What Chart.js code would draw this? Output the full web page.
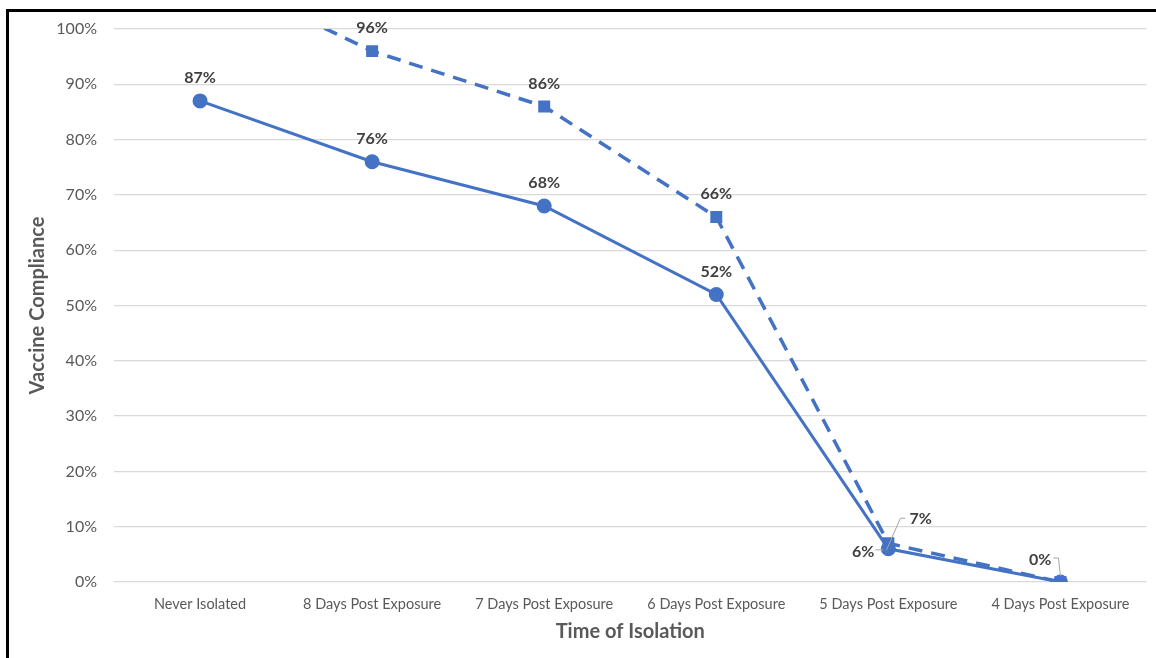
<!DOCTYPE html>
<html>
<head>
<meta charset="utf-8">
<script src="https://cdn.jsdelivr.net/npm/chart.js@4.4.1/dist/chart.umd.min.js"></script>
<style>
  html, body { margin: 0; padding: 0; background: #fff; }
  #wrap { position: relative; width: 1156px; height: 658px; overflow: hidden; }
  #frame { position: absolute; left: 6px; top: 9px; width: 1200px; height: 700px;
           border-top: 3px solid #000; border-left: 3px solid #000; box-sizing: border-box; pointer-events: none; }
  canvas { position: absolute; left: 0; top: 0; }
</style>
</head>
<body>
<div id="wrap">
  <canvas id="c" width="1156" height="658"></canvas>
  <div id="frame"></div>
</div>
<script>
const categories = ['Never Isolated', '8 Days Post Exposure', '7 Days Post Exposure', '6 Days Post Exposure', '5 Days Post Exposure', '4 Days Post Exposure'];
const solidValues = [87, 76, 68, 52, 6, 0];
const dashedValues = [111, 96, 86, 66, 7, 0];
const yTicks = [0, 10, 20, 30, 40, 50, 60, 70, 80, 90, 100];

const BLUE = '#4472C4';
const FONT = 'Lato, "Open Sans", "Noto Sans", sans-serif';

const labelPlugin = {
  id: 'labels',
  afterDatasetsDraw(chart) {
    const ctx = chart.ctx;
    ctx.save();
    ctx.font = 'bold 16px ' + FONT;
    ctx.fillStyle = '#404040';
    ctx.textAlign = 'center';
    ctx.textBaseline = 'middle';
    const metaS = chart.getDatasetMeta(0).data;
    const metaD = chart.getDatasetMeta(1).data;
    solidValues.forEach((v, i) => {
      const p = metaS[i];
      if (i === 4) {
        ctx.textAlign = 'right';
        ctx.fillText(v + '%', p.x - 14, p.y + 3);
        ctx.strokeStyle = '#a6a6a6'; ctx.lineWidth = 1;
        ctx.beginPath(); ctx.moveTo(p.x - 13, p.y + 1); ctx.lineTo(p.x - 5, p.y + 1); ctx.stroke();
        ctx.textAlign = 'center';
        return;
      }
      if (i === 5) return;
      ctx.fillText(v + '%', p.x, p.y - 23);
    });
    dashedValues.forEach((v, i) => {
      if (v > 100) return;
      const p = metaD[i];
      if (i === 4) {
        ctx.strokeStyle = '#a6a6a6'; ctx.lineWidth = 1;
        ctx.beginPath(); ctx.moveTo(p.x - 2, p.y + 7); ctx.lineTo(p.x + 12, p.y - 25); ctx.lineTo(p.x + 17, p.y - 25); ctx.stroke();
        ctx.textAlign = 'left';
        ctx.fillText(v + '%', p.x + 21, p.y - 24);
        ctx.textAlign = 'center';
        return;
      }
      if (i === 5) {
        ctx.strokeStyle = '#a6a6a6'; ctx.lineWidth = 1;
        ctx.beginPath(); ctx.moveTo(p.x - 7, p.y - 24); ctx.lineTo(p.x - 2, p.y - 24); ctx.lineTo(p.x, p.y - 6); ctx.stroke();
        ctx.textAlign = 'right';
        ctx.fillText(v + '%', p.x - 9, p.y - 22);
        ctx.textAlign = 'center';
        return;
      }
      ctx.fillText(v + '%', p.x, p.y - 23);
    });
    ctx.restore();
  }
};

new Chart(document.getElementById('c'), {
  type: 'line',
  data: {
    labels: categories,
    datasets: [
      {
        data: solidValues,
        borderColor: BLUE,
        backgroundColor: BLUE,
        borderWidth: 3,
        pointStyle: 'circle',
        pointRadius: 6,
        pointHoverRadius: 6,
        tension: 0,
        order: 2
      },
      {
        data: dashedValues,
        borderColor: BLUE,
        backgroundColor: BLUE,
        borderWidth: 3.5,
        borderDash: [14, 9],
        pointStyle: 'rect',
        pointRadius: 6,
        pointHoverRadius: 6,
        tension: 0,
        order: 1
      }
    ]
  },
  options: {
    responsive: false,
    animation: false,
    devicePixelRatio: 1,
    layout: { padding: { left: 0, right: 8, top: 29, bottom: 0 } },
    plugins: { legend: { display: false }, tooltip: { enabled: false } },
    scales: {
      x: {
        offset: true,
        grid: { display: false, drawTicks: false, offset: true },
        border: { display: false },
        ticks: { color: '#595959', font: { family: FONT, size: 14.5 }, padding: 14, maxRotation: 0, autoSkip: false },
        title: { display: true, text: 'Time of Isolation', color: '#595959', font: { family: FONT, size: 20, weight: 'bold' }, padding: { top: 0, bottom: 14 } },
        afterFit(scale) { scale.height = 76; scale.paddingLeft = 0; scale.paddingRight = 0; }
      },
      y: {
        min: 0, max: 100,
        afterBuildTicks(scale) { scale.ticks = yTicks.map(v => ({ value: v })); },
        grid: { color: '#d9d9d9', lineWidth: 1.3, drawTicks: false },
        border: { display: false },
        ticks: { color: '#595959', font: { family: FONT, size: 16 }, padding: 17, callback: v => v + '%' },
        title: { display: true, text: 'Vaccine Compliance', color: '#595959', font: { family: FONT, size: 20, weight: 'bold' }, padding: { top: 26, bottom: 0 } },
        afterFit(scale) { scale.width = 114; }
      }
    }
  },
  plugins: [labelPlugin]
});
</script>
</body>
</html>
